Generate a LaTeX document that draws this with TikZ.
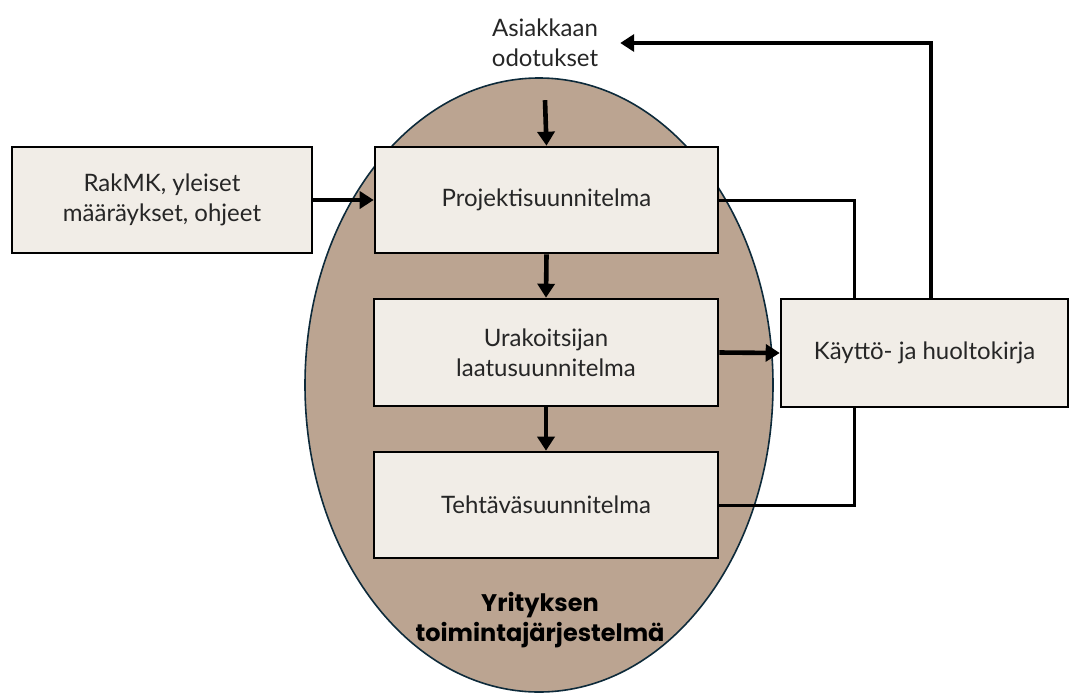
\documentclass[tikz,border=0pt]{standalone}
\usepackage{fontspec}
\setmainfont{Lato}
\newfontfamily\heavyfont{Poppins}
\usetikzlibrary{arrows.meta,shapes.geometric}
\definecolor{tan}{HTML}{BBA491}
\definecolor{rim}{HTML}{0D2A3A}
\definecolor{boxfill}{HTML}{F1EDE7}
\begin{document}
\begin{tikzpicture}[x=1pt,y=-1pt,
  stepbox/.style={draw=black,line width=2.6pt,fill=boxfill,inner sep=0pt,
    align=center,font=\fontsize{24}{30}\selectfont,text=black!85},
  flow/.style={line width=4.6pt,-{Triangle[length=14pt,width=17pt]}},
  link/.style={line width=3pt}]
\useasboundingbox (0,0) rectangle (1070,694);

% company management system
\node[ellipse,draw=rim,line width=1.6pt,fill=tan,inner sep=0pt,
      minimum width=468pt,minimum height=614pt] (sys) at (539,385) {};
\node[font=\heavyfont\bfseries\fontsize{24}{30}\selectfont,align=center] (syslabel)
      at (540,620) {Yrityksen\\toimintajärjestelmä};

% boxes
\node[stepbox,minimum width=300pt,minimum height=106pt] (rak) at (162,200)
      {RakMK, yleiset\\määräykset, ohjeet};
\node[stepbox,minimum width=343pt,minimum height=106pt] (proj) at (546.5,200)
      {Projektisuunnitelma};
\node[stepbox,minimum width=344pt,minimum height=107pt] (urak) at (546,352.5)
      {Urakoitsijan\\laatusuunnitelma};
\node[stepbox,minimum width=344pt,minimum height=106pt] (teht) at (546,505)
      {Tehtäväsuunnitelma};
\node[stepbox,minimum width=287pt,minimum height=108pt] (kay) at (924.5,353)
      {Käyttö- ja huoltokirja};

% customer expectations
\node[align=center,font=\fontsize{24}{30}\selectfont,text=black!85,
      minimum width=150pt,minimum height=114pt,inner sep=0pt] (asiak) at (545,43)
      {Asiakkaan\\odotukset};

\coordinate (joinx) at (854,0);
\coordinate (backx) at (931,0);

% flow arrows
\draw[flow] (asiak.south) -- (proj.north);
\draw[flow] (rak.east) -- (proj.west);
\draw[flow] (proj.south) -- (urak.north);
\draw[flow] (urak.south) -- (teht.north);
\draw[flow] (urak.east) -- (kay.west);
\draw[flow] (kay.north -| backx) |- (asiak.east);

% links to the manual
\draw[link] (proj.east) -| (kay.north -| joinx);
\draw[link] (teht.east) -| (kay.south -| joinx);
\end{tikzpicture}
\end{document}
